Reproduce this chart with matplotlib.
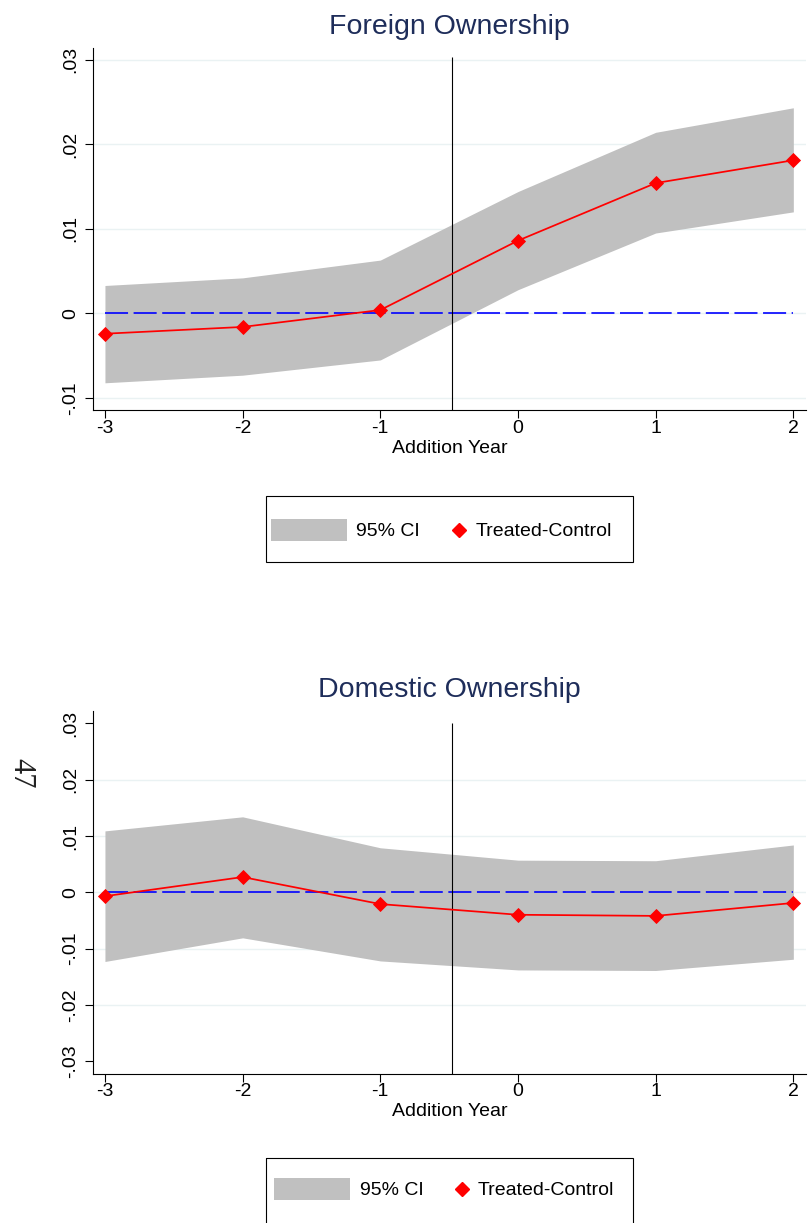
import matplotlib
matplotlib.use("Agg")
import matplotlib.pyplot as plt
from matplotlib.patches import Rectangle
from matplotlib.lines import Line2D

# ── Data ──────────────────────────────────────────────────────────────────────
years = [-3, -2, -1, 0, 1, 2]

foreign_est = [-0.0024, -0.0016, 0.0004, 0.0086, 0.0154, 0.0181]
foreign_hi = [0.0033, 0.0042, 0.0063, 0.0144, 0.0214, 0.0243]
foreign_lo = [-0.0082, -0.0073, -0.0055, 0.0028, 0.0095, 0.0120]

domestic_est = [-0.0007, 0.0027, -0.0021, -0.0040, -0.0042, -0.0019]
domestic_hi = [0.0109, 0.0134, 0.0079, 0.0057, 0.0056, 0.0084]
domestic_lo = [-0.0123, -0.0081, -0.0122, -0.0138, -0.0139, -0.0119]

foreign_ticks = [-0.01, 0, 0.01, 0.02, 0.03]
foreign_ticklabels = ["-.01", "0", ".01", ".02", ".03"]
domestic_ticks = [-0.03, -0.02, -0.01, 0, 0.01, 0.02, 0.03]
domestic_ticklabels = ["-.03", "-.02", "-.01", "0", ".01", ".02", ".03"]

EVENT_LINE = -0.48

# ── Style ─────────────────────────────────────────────────────────────────────
W, H = 810, 1223
FONT = ["Liberation Sans", "DejaVu Sans"]
TITLE_COLOR = "#1E2D5A"
GRID_COLOR = "#EAF2F3"
CI_COLOR = "#C0C0C0"

plt.rcParams["font.family"] = FONT
plt.rcParams["axes.unicode_minus"] = False
plt.rcParams["lines.scale_dashes"] = False

fig = plt.figure(figsize=(W / 100, H / 100), dpi=100)
fig.patch.set_facecolor("white")


def px_rect(left, top, right, bottom):
    return [left / W, 1 - bottom / H, (right - left) / W, (bottom - top) / H]


def draw_panel(ax, title, est, lo, hi, ticks, ticklabels, ylim, grid_at,
               vline_top, title_y):
    ax.set_facecolor("white")
    for g in grid_at:
        ax.axhline(g, color=GRID_COLOR, linewidth=1.0, zorder=0)

    ax.fill_between(years, lo, hi, color=CI_COLOR, linewidth=0, zorder=1)

    ax.plot([years[0], years[-1]], [0, 0], color="#0000FF", linewidth=1.2,
            dashes=(16.6, 4.0), zorder=2)

    ax.vlines(EVENT_LINE, ylim[0], vline_top, color="black", linewidth=0.8,
              zorder=3)

    ax.plot(years, est, color="#FF0000", linewidth=1.25, marker="D",
            markersize=7.2, markeredgewidth=0.6, markeredgecolor="#FF0000",
            markerfacecolor="#FF0000", zorder=4)

    ax.set_xlim(-3.089, 2.092)
    ax.set_ylim(*ylim)

    ax.set_xticks(years)
    ax.set_xticklabels([str(y) for y in years])
    ax.set_yticks(ticks)
    ax.set_yticklabels(ticklabels, rotation=90, va="center")

    ax.tick_params(axis="both", labelsize=14, colors="black", length=5.8,
                   width=0.8, direction="out")
    ax.tick_params(axis="y", pad=4)
    ax.tick_params(axis="x", pad=1)

    for side in ["top", "right"]:
        ax.spines[side].set_visible(False)
    for side in ["left", "bottom"]:
        ax.spines[side].set_color("black")
        ax.spines[side].set_linewidth(0.8)

    ax.set_xlabel("Addition Year", fontsize=14, labelpad=2.4)

    fig.text(449.4 / W, 1 - title_y / H, title, fontsize=20.5,
             color=TITLE_COLOR, ha="center", va="baseline")


# ── Panels ────────────────────────────────────────────────────────────────────
ax1 = fig.add_axes(px_rect(92.7, 47.7, 806, 410.3))
draw_panel(ax1, "Foreign Ownership", foreign_est, foreign_lo, foreign_hi,
           foreign_ticks, foreign_ticklabels, (-0.01145, 0.0314),
           [-0.01, 0, 0.01, 0.02, 0.03], 0.0303, 34.3)

ax2 = fig.add_axes(px_rect(92.7, 711, 806, 1073.5))
draw_panel(ax2, "Domestic Ownership", domestic_est, domestic_lo, domestic_hi,
           domestic_ticks, domestic_ticklabels, (-0.0322, 0.0322),
           [-0.02, -0.01, 0, 0.01, 0.02], 0.0300, 697.3)

# ── Legends and page number (pixel overlay) ──────────────────────────────────
ov = fig.add_axes([0, 0, 1, 1], facecolor="none")
ov.set_xlim(0, W)
ov.set_ylim(H, 0)
ov.axis("off")


def draw_legend(box_top, box_bottom, patch_left, patch_top, patch_bottom,
                ci_x, dia_x, lab_x):
    ov.add_patch(Rectangle((266, box_top), 632.7 - 266, box_bottom - box_top,
                           fill=False, edgecolor="black", linewidth=0.8))
    ov.add_patch(Rectangle((patch_left, patch_top), 76,
                           patch_bottom - patch_top, facecolor=CI_COLOR,
                           edgecolor="none"))
    yc = (patch_top + patch_bottom) / 2
    ov.text(ci_x, yc + 1, "95% CI", fontsize=14, ha="left", va="center")
    ov.add_line(Line2D([dia_x], [yc], marker="D", markersize=7.2,
                       color="#FF0000", linestyle="none"))
    ov.text(lab_x, yc + 1, "Treated-Control", fontsize=14, ha="left",
            va="center")


draw_legend(496, 562, 270.7, 519.3, 540.7, 356.5, 459, 476)
draw_legend(1157.7, 1240, 274, 1178.3, 1200, 360, 462.3, 477.5)

ov.text(21, 773, "47", fontsize=22, rotation=270, ha="center", va="center",
        family=["Liberation Serif", "DejaVu Serif"], color="#222222")

fig.savefig("out.png", dpi=100, facecolor="white")
